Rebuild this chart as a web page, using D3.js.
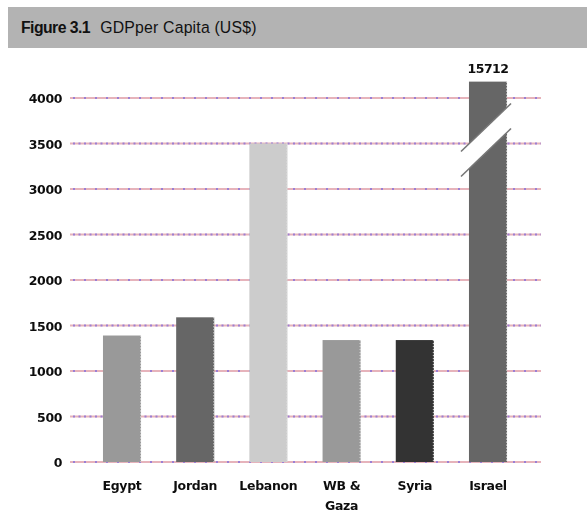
<!DOCTYPE html>
<html>
<head>
<meta charset="utf-8">
<script src="https://cdn.jsdelivr.net/npm/d3@7"></script>
<style>
  html, body { margin: 0; padding: 0; background: #fff; }
  svg { display: block; }
</style>
</head>
<body>
<svg id="chart" width="587" height="515"></svg>
<script>
// GDP per capita (US$) by economy
const categories = ["Egypt", "Jordan", "Lebanon", "WB & Gaza", "Syria", "Israel"];
const gdpValues  = [1390, 1590, 3500, 1340, 1340, 15712];
const barColors  = ["#999999", "#666666", "#cccccc", "#999999", "#333333", "#666666"];
const tickValues = [0, 500, 1000, 1500, 2000, 2500, 3000, 3500, 4000];

// Values above this are drawn cut off with a break marker
const axisCap = 4180;
const breakAt = 3500;

const svg = d3.select("#chart");
const titleFont = "'Liberation Sans', Arial, sans-serif";
const labelFont = "'DejaVu Sans', sans-serif";

// Soft edge for the small bold labels
const defs = svg.append("defs");
defs.append("filter").attr("id", "soft")
  .append("feGaussianBlur").attr("stdDeviation", 0.45);

// Title band
svg.append("rect")
  .attr("x", 8).attr("y", 7).attr("width", 579).attr("height", 41)
  .attr("fill", "#b3b3b3");
const title = svg.append("text")
  .attr("transform", "translate(21,33) scale(0.93,1)")
  .attr("font-family", titleFont)
  .attr("font-size", 17)
  .attr("fill", "#111");
title.append("tspan").attr("font-weight", "bold").attr("letter-spacing", "-0.6").text("Figure 3.1");
title.append("tspan").attr("dx", 11).attr("letter-spacing", "0.2").text("GDPper  Capita  (US$)");

const y = d3.scaleLinear().domain([0, 4000]).range([462, 98]);
const x = d3.scaleBand()
  .domain(categories)
  .range([85.4, 524.6])
  .paddingInner(0.48)
  .paddingOuter(0.24);

const gridLeft = 70, gridRight = 541;

// Gridlines: pink rule with violet dots, alternating dot spacing
const grid = svg.append("g");
tickValues.forEach((t, i) => {
  const yy = y(t);
  grid.append("line")
    .attr("x1", gridLeft).attr("x2", gridRight)
    .attr("y1", yy).attr("y2", yy)
    .attr("stroke", "#e6b3bb").attr("stroke-width", 2);
  grid.append("line")
    .attr("x1", gridLeft + 3).attr("x2", gridRight)
    .attr("y1", yy).attr("y2", yy)
    .attr("stroke", "#9b7fd4").attr("stroke-width", 2)
    .attr("stroke-dasharray", i % 2 === 0 ? "2,9" : "2,3.5");
});

// Y axis labels
const yAxis = d3.axisLeft(y).tickValues(tickValues).tickFormat(d3.format("d")).tickSize(0).tickPadding(0);
const yg = svg.append("g").attr("transform", "translate(62,0)").call(yAxis);
yg.select(".domain").remove();
yg.selectAll("text")
  .attr("font-family", labelFont)
  .attr("font-weight", "bold")
  .attr("font-size", 12.5)
  .attr("letter-spacing", "-0.4")
  .attr("fill", "#111")
  .attr("filter", "url(#soft)")
  .attr("dy", "0.36em");

// Bars
const shown = v => Math.min(v, axisCap);
const bars = svg.append("g");
bars.selectAll("rect")
  .data(categories)
  .join("rect")
  .attr("x", d => x(d))
  .attr("width", x.bandwidth())
  .attr("y", (d, i) => y(shown(gdpValues[i])))
  .attr("height", (d, i) => y(0) - y(shown(gdpValues[i])))
  .attr("fill", (d, i) => barColors[i]);

// Light stippled right edge on each bar
bars.selectAll("line.edge")
  .data(categories)
  .join("line")
  .attr("class", "edge")
  .attr("x1", d => x(d) + x.bandwidth() - 0.5)
  .attr("x2", d => x(d) + x.bandwidth() - 0.5)
  .attr("y1", (d, i) => y(shown(gdpValues[i])))
  .attr("y2", y(0))
  .attr("stroke", "#e8e8e8").attr("stroke-width", 1)
  .attr("stroke-dasharray", "1,2");

// Break marker and true value on bars exceeding the axis
categories.forEach((c, i) => {
  if (gdpValues[i] <= axisCap) return;
  const x0 = x(c) - 8, x1 = x(c) + x.bandwidth() + 4;
  const yTop0 = y(breakAt) + 8, yTop1 = yTop0 - 48;
  const gap = 25;
  svg.append("path")
    .attr("d", `M${x0},${yTop0} L${x1},${yTop1} L${x1},${yTop1 + gap} L${x0},${yTop0 + gap} Z`)
    .attr("fill", "#fff");
  [0, gap].forEach(off => {
    svg.append("line")
      .attr("x1", x0).attr("y1", yTop0 + off)
      .attr("x2", x1).attr("y2", yTop1 + off)
      .attr("stroke", "#777").attr("stroke-width", 1.6);
  });
  svg.append("text")
    .attr("x", x(c) + x.bandwidth() / 2)
    .attr("y", y(shown(gdpValues[i])) - 9)
    .attr("text-anchor", "middle")
    .attr("font-family", labelFont)
    .attr("font-weight", "bold")
    .attr("font-size", 12.5)
    .attr("letter-spacing", "-0.5")
    .attr("fill", "#111")
    .attr("filter", "url(#soft)")
    .text(d3.format("d")(gdpValues[i]));
});

// Category labels
const labels = svg.append("g").attr("filter", "url(#soft)");
categories.forEach(c => {
  const parts = c === "WB & Gaza" ? ["WB &", "Gaza"] : [c];
  const t = labels.append("text")
    .attr("x", x(c) + x.bandwidth() / 2)
    .attr("y", 490)
    .attr("text-anchor", "middle")
    .attr("font-family", labelFont)
    .attr("font-weight", "bold")
    .attr("font-size", 12.5)
    .attr("letter-spacing", "-0.3")
    .attr("fill", "#111");
  parts.forEach((p, k) => {
    t.append("tspan")
      .attr("x", x(c) + x.bandwidth() / 2)
      .attr("dy", k === 0 ? 0 : 20)
      .text(p);
  });
});
</script>
</body>
</html>
